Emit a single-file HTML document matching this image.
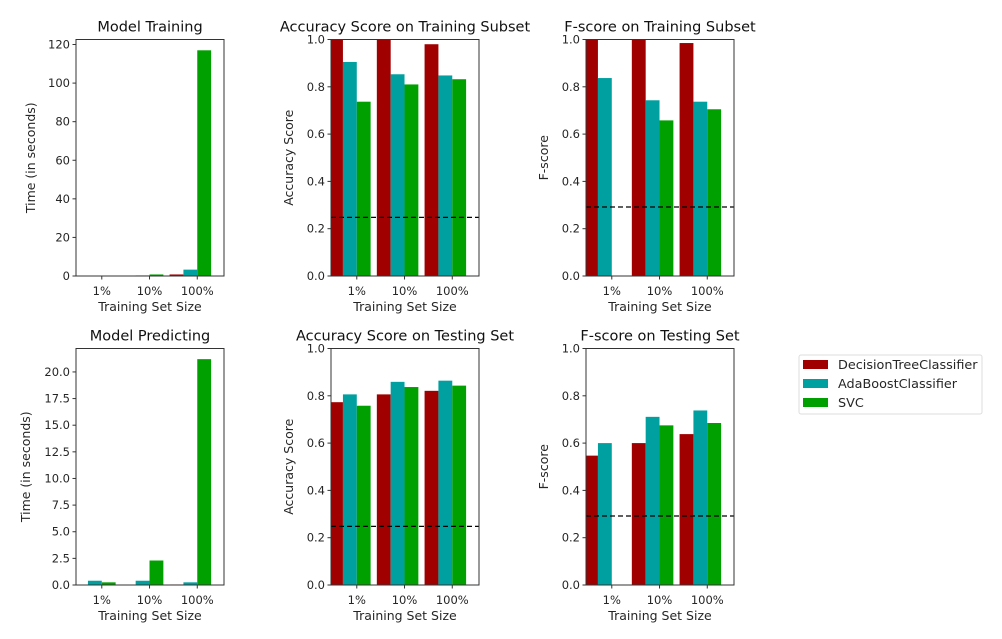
<!DOCTYPE html>
<html><head><meta charset="utf-8"><style>
body{margin:0;background:#fff;}
svg{display:block;font-family:"DejaVu Sans","Liberation Sans",sans-serif;}
</style></head><body>
<svg id="fig" width="1002" height="639" viewBox="0 0 1002 639" xmlns="http://www.w3.org/2000/svg"></svg>
<script>
const categories = ["1%","10%","100%"];
const seriesNames = ["DecisionTreeClassifier","AdaBoostClassifier","SVC"];
const trainTime = [[0.01,0.02,0.8],[0.05,0.3,3.3],[0.05,0.8,117]];
const predTime = [[0.01,0.02,0.05],[0.4,0.4,0.25],[0.25,2.3,21.2]];
const accTrain = [[1.0,1.0,0.98],[0.905,0.853,0.848],[0.737,0.81,0.832]];
const accTest = [[0.773,0.806,0.821],[0.806,0.859,0.864],[0.758,0.837,0.843]];
const fTrain = [[1.0,1.0,0.985],[0.837,0.743,0.737],[0,0.658,0.705]];
const fTest = [[0.547,0.6,0.638],[0.6,0.711,0.738],[0,0.675,0.685]];
const accBaseline = 0.2478;
const fBaseline = 0.2917;
const timeTicksTrain = [0,20,40,60,80,100,120];
const timeTicksPred = [0,2.5,5,7.5,10,12.5,15,17.5,20];
const scoreTicks = [0,0.2,0.4,0.6,0.8,1.0];

const colors = ["#a00000","#00a0a0","#00a000"];
const NS = "http://www.w3.org/2000/svg";
const fig = document.getElementById('fig');
function mk(tag, attrs, parent){const e=document.createElementNS(NS,tag);for(const k in attrs)e.setAttribute(k,attrs[k]);(parent||fig).appendChild(e);return e;}

function panel(opt){
  const g = mk('g',{});
  
  
  const L=opt.x, T=opt.y, W=148, H=236.5, B=T+H;
  const xmin=-0.54, xmax=2.56;
  const xs = v => L + (v-xmin)/(xmax-xmin)*W;
  const ys = v => B - (v-opt.ymin)/(opt.ymax-opt.ymin)*H;
  const clip = 'c'+opt.name;
  const cp = mk('clipPath',{id:clip},g); mk('rect',{x:L,y:T,width:W,height:H},cp);
  const bg = mk('g',{'clip-path':'url(#'+clip+')'},g);
  const bw = 0.29;
  opt.data.forEach((ser,si)=>{
    ser.forEach((v,ci)=>{
      const x0 = ci + (si-2)*bw;
      const r = mk('rect',{x:xs(x0),y:ys(v),width:xs(x0+bw)-xs(x0),height:Math.max(0,ys(0)-ys(v)),fill:colors[si]},bg);
      
      
    });
  });
  if(opt.baseline!=null){
    const l = mk('line',{x1:L,x2:L+W,y1:ys(opt.baseline),y2:ys(opt.baseline),stroke:'#000','stroke-width':1.2,'stroke-dasharray':'5,3'},g);
    
    
  }
  const fr = mk('rect',{x:L,y:T,width:W,height:H,fill:'none',stroke:'#333','stroke-width':1},g);
  
  
  opt.ticks.forEach(t=>{
    const y=ys(t);
    mk('line',{x1:L-3.5,x2:L,y1:y,y2:y,stroke:'#333'},g);
    const tx = mk('text',{x:L-6,y:y+4,'font-size':11.5,'text-anchor':'end',fill:'#262626'},g);
    tx.textContent = opt.fmt(t);
    
    
  });
  categories.forEach((c,i)=>{
    const x=xs(i);
    mk('line',{x1:x,x2:x,y1:B,y2:B+3.5,stroke:'#333'},g);
    const tx = mk('text',{x:x,y:B+19,'font-size':11.5,'text-anchor':'middle',fill:'#262626'},g);
    tx.textContent = c;
    
    
  });
  const xl = mk('text',{x:L+W/2,y:B+35,'font-size':12.5,'text-anchor':'middle',fill:'#262626'},g);
  xl.textContent='Training Set Size';
  
  
  const yl = mk('text',{x:0,y:0,'font-size':12.5,'text-anchor':'middle',fill:'#262626',transform:`translate(${opt.ylx},${T+H/2}) rotate(-90)`},g);
  yl.textContent=opt.ylabel;
  
  
  const tt = mk('text',{x:L+W/2,y:T-8,'font-size':14.5,'text-anchor':'middle',fill:'#111'},g);
  tt.textContent=opt.title;
  
  
}
const f0 = t=>String(t), f1=t=>t.toFixed(1);
panel({name:'model-training',x:76,y:39.5,data:trainTime,ymin:0,ymax:122.6,ticks:timeTicksTrain,fmt:f0,title:'Model Training',ylabel:'Time (in seconds)',ylx:35});
panel({name:'accuracy-training',x:331,y:39.5,data:accTrain,ymin:0,ymax:1,ticks:scoreTicks,fmt:f1,title:'Accuracy Score on Training Subset',ylabel:'Accuracy Score',ylx:293,baseline:accBaseline});
panel({name:'fscore-training',x:586,y:39.5,data:fTrain,ymin:0,ymax:1,ticks:scoreTicks,fmt:f1,title:'F-score on Training Subset',ylabel:'F-score',ylx:548,baseline:fBaseline});
panel({name:'model-predicting',x:76,y:348.5,data:predTime,ymin:0,ymax:22.2,ticks:timeTicksPred,fmt:f1,title:'Model Predicting',ylabel:'Time (in seconds)',ylx:30});
panel({name:'accuracy-testing',x:331,y:348.5,data:accTest,ymin:0,ymax:1,ticks:scoreTicks,fmt:f1,title:'Accuracy Score on Testing Set',ylabel:'Accuracy Score',ylx:293,baseline:accBaseline});
panel({name:'fscore-testing',x:586,y:348.5,data:fTest,ymin:0,ymax:1,ticks:scoreTicks,fmt:f1,title:'F-score on Testing Set',ylabel:'F-score',ylx:548,baseline:fBaseline});

const lg = mk('g',{});


mk('rect',{x:799,y:355,width:183,height:59,rx:2,fill:'#fff',stroke:'#ddd'},lg);
seriesNames.forEach((n,i)=>{
  const y = 364.5 + i*19;
  const p = mk('rect',{x:803,y:y-4.5,width:25,height:9,fill:colors[i]},lg);
  
  
  const t = mk('text',{x:838,y:y+4.5,'font-size':12.8,fill:'#262626'},lg);
  t.textContent=n;
  
  
});
</script>
</body></html>
